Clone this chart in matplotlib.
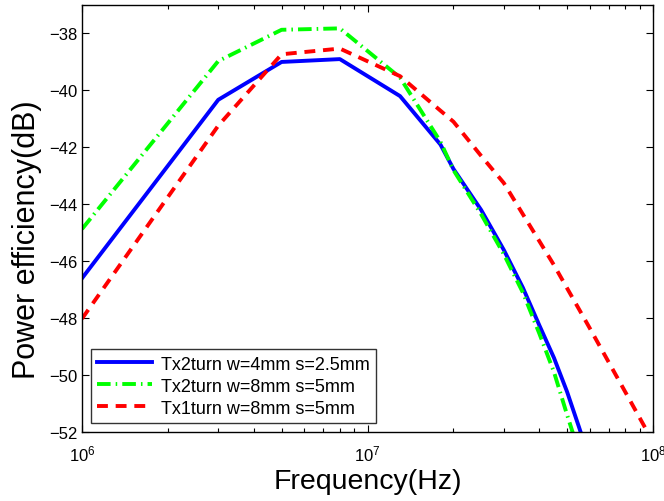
import numpy as np
import matplotlib
matplotlib.use("Agg")
from matplotlib import pyplot as plt
from matplotlib.ticker import LogLocator, NullFormatter

plt.rcParams['font.family'] = ['Liberation Sans', 'DejaVu Sans']
plt.rcParams['mathtext.fontset'] = 'custom'
plt.rcParams['mathtext.rm'] = 'Liberation Sans'

# frequency points (MHz)
freq_mhz = [1, 3, 5, 8, 13, 18, 20, 25, 30, 35, 40, 45, 50, 55, 60, 80, 100]
# power efficiency (dB)
tx2_w4 = [-46.6, -40.33, -39.0, -38.9, -40.2, -41.9, -42.76, -44.2, -45.6, -46.93,
          -48.26, -49.4, -50.59, -51.82, -52.97, -57.0, -60.0]
tx2_w8 = [-44.87, -38.97, -37.87, -37.82, -39.55, -41.8, -42.8, -44.35, -45.75, -47.1,
          -48.55, -49.9, -51.4, -52.7, -53.9, -57.5, -61.0]
tx1_w8 = [-48.02, -41.24, -38.73, -38.53, -39.5, -40.71, -41.1, -42.3, -43.25, -44.35,
          -45.3, -46.14, -46.95, -47.68, -48.35, -50.6, -52.35]

labels = ['Tx2turn w=4mm s=2.5mm', 'Tx2turn w=8mm s=5mm', 'Tx1turn w=8mm s=5mm']

f = np.array(freq_mhz) * 1e6

fig = plt.figure(figsize=(6.64, 5.02), dpi=100)
ax = fig.add_axes([0.1235, 0.1375, 0.86, 0.8505])

lw = 2.8
ax.plot(f, tx2_w4, color='#0000ff', lw=lw, ls='-', label=labels[0])
ax.plot(f, tx2_w8, color='#00ff00', lw=lw, dashes=(3.5, 1.3, 0.4, 1.3), label=labels[1])
ax.plot(f, tx1_w8, color='#ff0000', lw=lw, dashes=(2.8, 2.0), label=labels[2])

ax.set_xscale('log')
ax.set_xlim(1e6, 1e8)
ax.set_ylim(-52, -37)
ax.set_yticks(np.arange(-52, -37, 2))
ax.xaxis.set_minor_locator(LogLocator(base=10, subs=np.arange(2, 10)))
ax.xaxis.set_minor_formatter(NullFormatter())

ax.tick_params(which='both', direction='in', top=True, right=True, labelsize=12, width=0.8)
ax.tick_params(which='major', length=5)
ax.tick_params(which='minor', length=3)
ax.tick_params(axis='x', pad=8)
for s in ax.spines.values():
    s.set_linewidth(1.0)

ax.set_xlabel('Frequency(Hz)', fontsize=20.5)
ax.set_ylabel('Power efficiency(dB)', fontsize=22)
ax.xaxis.set_label_coords(0.5, -0.085)
ax.yaxis.set_label_coords(-0.07, 0.452)

leg = ax.legend(loc='lower left', bbox_to_anchor=(0.0158, 0.021), borderaxespad=0,
                fontsize=13, handlelength=3.0, frameon=True, fancybox=False,
                edgecolor='black', borderpad=0.35, labelspacing=0.28, handletextpad=0.5)
leg.get_frame().set_linewidth(1.0)

fig.savefig('out.png', dpi=100)
